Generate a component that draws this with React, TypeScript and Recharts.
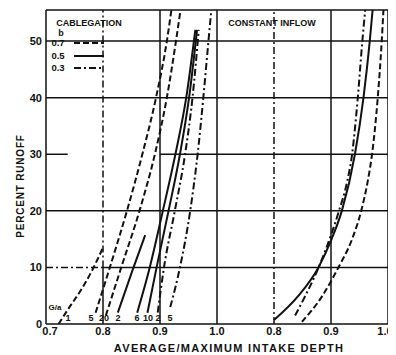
import React from "react";
import { LineChart, Line, XAxis, YAxis, ReferenceLine } from "recharts";

// ---- axis ticks ----
const xTicks = [0.7, 0.8, 0.9, 1.0, 1.1, 1.2, 1.3];
const xTickLabels = ["0.7", "0.8", "0.9", "1.0", "0.8", "0.9", "1.0"];
const yTicks = [0, 10, 20, 30, 40, 50];
const yMax = 55.5;
// right panel (constant inflow) is drawn after the left panel on one shared axis
const rightPanelShift = 0.3;

// ---- CABLEGATION, b = 0.7 (dashed) ----
const cabB07Ga1: [number, number][] = [[0.722, 0], [0.74, 2.8], [0.76, 5.8], [0.78, 9.3], [0.8, 13.5]];
const cabB07Ga5: [number, number][] = [[0.787, 2], [0.812, 10], [0.842, 20], [0.869, 30], [0.893, 40], [0.912, 50], [0.92, 55.5]];
const cabB07Ga20: [number, number][] = [[0.805, 1.5], [0.832, 10], [0.864, 20], [0.891, 30], [0.912, 40], [0.928, 50], [0.936, 55.5]];
// ---- CABLEGATION, b = 0.5 (solid) ----
const cabB05Ga2: [number, number][] = [[0.826, 2], [0.85, 9], [0.874, 15.7]];
const cabB05Ga6: [number, number][] = [[0.86, 2], [0.882, 10], [0.905, 20], [0.927, 30], [0.946, 40], [0.962, 52]];
const cabB05Ga10: [number, number][] = [[0.878, 2], [0.894, 10], [0.915, 20], [0.935, 30], [0.951, 40], [0.965, 52]];
// ---- CABLEGATION, b = 0.3 (dash-dot) ----
const cabB03Ga2: [number, number][] = [[0.896, 2], [0.907, 10], [0.926, 20], [0.944, 30], [0.957, 40], [0.968, 52]];
const cabB03Ga5: [number, number][] = [[0.918, 3], [0.935, 10], [0.953, 20], [0.966, 30], [0.976, 40], [0.985, 50], [0.99, 55.5]];

// ---- CONSTANT INFLOW ----
const ciB05: [number, number][] = [[0.8, 0.7], [0.843, 5], [0.878, 10], [0.901, 15], [0.919, 20], [0.942, 30], [0.957, 40], [0.968, 50], [0.973, 55.5]];
const ciB03: [number, number][] = [[0.837, 1.5], [0.855, 5], [0.874, 9], [0.892, 13.5], [0.914, 20], [0.928, 25], [0.937, 30], [0.947, 40], [0.955, 50], [0.96, 55.5]];
const ciB07: [number, number][] = [[0.849, 0.4], [0.885, 5], [0.913, 10], [0.937, 15], [0.953, 20], [0.964, 25], [0.972, 30], [0.982, 40], [0.989, 50], [0.992, 55.5]];

// ---- labels ----
const gaLabels = ["1", "5", "20", "2", "6", "10", "2", "5"];
const gaLabelX = [68, 91, 104, 118, 137, 148, 158, 170];
const legendValues = ["0.7", "0.5", "0.3"];
const legendRowY = [43, 56, 68];

const DASH = "6 3";
const DASHDOT = "7 3 2 3";
const legendDashes = [DASH, "", DASHDOT];

const toPts = (arr: [number, number][], shift = 0) => arr.map(([x, y]) => ({ x: +(x + shift).toFixed(4), y }));

const series = [
  { id: "c1", data: toPts(cabB07Ga1), dash: DASH },
  { id: "c2", data: toPts(cabB07Ga5), dash: DASH },
  { id: "c3", data: toPts(cabB07Ga20), dash: DASH },
  { id: "c4", data: toPts(cabB05Ga2), dash: "" },
  { id: "c5", data: toPts(cabB05Ga6), dash: "" },
  { id: "c6", data: toPts(cabB05Ga10), dash: "" },
  { id: "c7", data: toPts(cabB03Ga2), dash: DASHDOT },
  { id: "c8", data: toPts(cabB03Ga5), dash: DASHDOT },
  { id: "r1", data: toPts(ciB05, rightPanelShift), dash: "" },
  { id: "r2", data: toPts(ciB03, rightPanelShift), dash: DASHDOT },
  { id: "r3", data: toPts(ciB07, rightPanelShift), dash: DASH },
];

const FONT = "'Liberation Sans', Arial, sans-serif";
const G = { stroke: "#111", strokeWidth: 1.5 };

const XTick = (props: any) => {
  const { x, y, payload } = props;
  const i = xTicks.findIndex((t) => Math.abs(t - payload.value) < 1e-6);
  const label = i >= 0 ? xTickLabels[i] : "";
  const dx = i === 0 ? 4 : i === xTicks.length - 1 ? -3 : 0;
  return (
    <text x={x + dx} y={y + 11} textAnchor="middle" fill="#111" fontSize={11} fontWeight={700} fontFamily={FONT}>
      {label}
    </text>
  );
};

const txt = (left: number, top: number, content: string, size = 9, extra: React.CSSProperties = {}) => (
  <div
    style={{
      position: "absolute",
      left: left - 8,
      top: top - 8,
      transform: "translate(-50%, -50%)",
      fontFamily: FONT,
      fontWeight: 700,
      fontSize: size,
      whiteSpace: "nowrap",
      color: "#111",
      lineHeight: 1,
      ...extra,
    }}
  >
    {content}
  </div>
);

export default function App() {
  return (
    <div style={{ position: "relative", width: 388, height: 345 }}>
      <LineChart width={388} height={345} margin={{ top: 2, right: 8, left: 0, bottom: 0 }}>
        <XAxis
          type="number"
          dataKey="x"
          domain={[0.7, 1.3]}
          ticks={xTicks}
          allowDataOverflow
          tickLine={false}
          tickSize={0}
          tickMargin={0}
          height={29}
          axisLine={{ stroke: "#111", strokeWidth: 1.5 }}
          tick={<XTick />}
          interval={0}
        />
        <YAxis
          type="number"
          domain={[0, yMax]}
          ticks={yTicks}
          allowDataOverflow
          width={38}
          tickLine={false}
          tickSize={0}
          tickMargin={4}
          axisLine={{ stroke: "#111", strokeWidth: 1.5 }}
          tick={{ fill: "#111", fontSize: 11, fontWeight: 700, fontFamily: FONT }}
        />
        {/* horizontal grid */}
        <ReferenceLine segment={[{ x: 0.7, y: 10 }, { x: 0.8, y: 10 }]} {...G} strokeDasharray={DASHDOT} />
        <ReferenceLine segment={[{ x: 0.8, y: 10 }, { x: 1.3, y: 10 }]} {...G} />
        <ReferenceLine y={20} {...G} />
        <ReferenceLine segment={[{ x: 0.7, y: 30 }, { x: 0.738, y: 30 }]} {...G} />
        <ReferenceLine segment={[{ x: 0.9, y: 30 }, { x: 1.3, y: 30 }]} {...G} />
        <ReferenceLine y={40} {...G} />
        <ReferenceLine y={50} {...G} />
        <ReferenceLine y={yMax} {...G} />
        {/* vertical grid */}
        <ReferenceLine segment={[{ x: 0.8, y: 0 }, { x: 0.8, y: 10 }]} {...G} />
        <ReferenceLine segment={[{ x: 0.8, y: 10 }, { x: 0.8, y: yMax }]} {...G} strokeDasharray={DASHDOT} />
        <ReferenceLine x={0.9} {...G} />
        <ReferenceLine x={1.0} {...G} />
        <ReferenceLine x={1.1} {...G} strokeDasharray={DASHDOT} />
        <ReferenceLine x={1.2} {...G} />
        <ReferenceLine x={1.3} {...G} />
        {series.map((s) => (
          <Line
            key={s.id}
            data={s.data}
            dataKey="y"
            type="monotone"
            stroke="#111"
            strokeWidth={2}
            strokeDasharray={s.dash || undefined}
            dot={false}
            activeDot={false}
            isAnimationActive={false}
          />
        ))}
      </LineChart>

      {/* panel titles */}
      {txt(89, 23, "CABLEGATION", 9)}
      {txt(272, 23, "CONSTANT INFLOW", 9)}
      {/* legend */}
      {txt(61, 33, "b", 9)}
      {legendValues.map((v, i) => (
        <React.Fragment key={v}>
          {txt(58, legendRowY[i], v, 9.5)}
          <svg
            style={{ position: "absolute", left: 74 - 8, top: legendRowY[i] - 8 - 2 }}
            width={30}
            height={4}
          >
            <line x1={0} y1={2} x2={30} y2={2} stroke="#111" strokeWidth={2} strokeDasharray={legendDashes[i] || undefined} />
          </svg>
        </React.Fragment>
      ))}
      {/* G/a labels */}
      {txt(55, 308, "G/a", 8)}
      {gaLabels.map((l, i) => (
        <React.Fragment key={i}>{txt(gaLabelX[i], 318, l, 9)}</React.Fragment>
      ))}
      {/* axis titles */}
      {txt(229, 348, "AVERAGE/MAXIMUM INTAKE DEPTH", 11, { letterSpacing: 1.3 })}
      {txt(21, 186, "PERCENT RUNOFF", 10, {
        letterSpacing: 0.8,
        transform: "translate(-50%, -50%) rotate(-90deg)",
      })}
    </div>
  );
}
